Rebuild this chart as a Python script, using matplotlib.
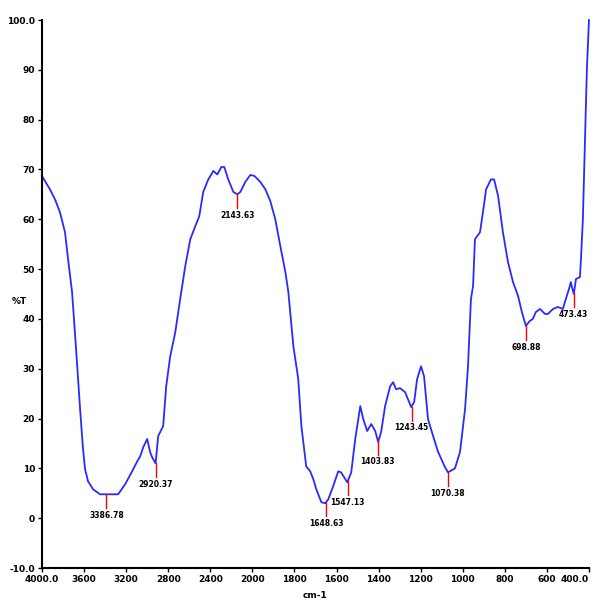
import numpy as np
import matplotlib
matplotlib.use("Agg")
import matplotlib.pyplot as plt

# FTIR spectrum (wavenumber cm-1, %T)
wavenumber = [4000, 3952, 3924, 3876, 3829, 3781, 3752, 3714, 3676, 3638,
              3610, 3590, 3562, 3514, 3448, 3386, 3276, 3210, 3143, 3095,
              3067, 3038, 3000, 2971, 2952, 2920, 2895, 2848, 2819, 2781,
              2733, 2686, 2638, 2590, 2543, 2505, 2467, 2419, 2371, 2333,
              2295, 2267, 2229, 2181, 2143, 2114, 2067, 2019, 1990, 1962,
              1938, 1915, 1891, 1867, 1843, 1829, 1805, 1782, 1767, 1744,
              1725, 1710, 1696, 1672, 1654, 1639, 1616, 1592, 1578, 1549,
              1530, 1511, 1487, 1473, 1454, 1435, 1416, 1402, 1388, 1369,
              1345, 1331, 1317, 1298, 1274, 1255, 1245, 1231, 1217, 1198,
              1184, 1165, 1141, 1117, 1084, 1070, 1037, 1013, 989, 975,
              961, 951, 942, 918, 904, 889, 866, 851, 832, 809,
              785, 761, 737, 719, 700, 681, 667, 652, 633, 609,
              595, 571, 548, 524, 510, 495, 486, 481, 472, 462,
              443, 438, 429, 420, 410, 400]
transmittance = [68.7, 67.0, 66.0, 64.0, 61.4, 57.4, 52.0, 45.4, 34.0, 22.0,
                 13.9, 9.8, 7.4, 5.8, 4.8, 4.8, 4.8, 6.8, 9.4, 11.4,
                 12.4, 14.2, 15.9, 13.2, 12.2, 11.0, 16.5, 18.5, 26.5, 32.5,
                 37.3, 44.0, 50.6, 56.0, 58.6, 60.6, 65.5, 68.0, 69.7, 69.0,
                 70.5, 70.5, 68.0, 65.5, 65.0, 65.5, 67.5, 68.9, 68.7, 67.5,
                 66.0, 63.7, 60.0, 54.6, 49.4, 45.4, 34.5, 28.0, 18.5, 10.4,
                 9.4, 7.8, 5.8, 3.2, 3.0, 3.8, 6.4, 9.4, 9.2, 7.2,
                 9.2, 15.9, 22.5, 19.9, 17.5, 18.9, 17.5, 15.3, 17.3, 22.5,
                 26.5, 27.3, 25.9, 26.1, 25.3, 23.3, 22.3, 23.3, 27.9, 30.5,
                 28.5, 19.9, 16.5, 13.3, 10.2, 9.2, 10.0, 13.3, 21.9, 30.5,
                 44.0, 46.6, 56.0, 57.4, 61.4, 66.0, 68.0, 68.0, 64.7, 57.4,
                 51.4, 47.4, 44.6, 41.4, 38.6, 39.6, 40.0, 41.4, 42.0, 41.0,
                 41.0, 42.0, 42.4, 42.0, 44.0, 46.0, 47.4, 46.4, 45.0, 48.0,
                 48.4, 52.0, 60.0, 74.0, 90.0, 100.0]

peak_wn = [3386.78, 2920.37, 2143.63, 1648.63, 1547.13, 1403.83, 1243.45,
           1070.38, 698.88, 473.43]
peak_labels = ["3386.78", "2920.37", "2143.63", "1648.63", "1547.13",
               "1403.83", "1243.45", "1070.38", "698.88", "473.43"]

xticks = [4000, 3600, 3200, 2800, 2400, 2000, 1800, 1600, 1400, 1200,
          1000, 800, 600, 400]
xtick_labels = ["4000.0", "3600", "3200", "2800", "2400", "2000", "1800",
                "1600", "1400", "1200", "1000", "800", "600", "400.0"]
yticks = [100, 90, 80, 70, 60, 50, 40, 30, 20, 10, 0, -10]
ytick_labels = ["100.0", "90", "80", "70", "60", "50", "40", "30", "20",
                "10", "0", "-10.0"]


# scale change at 2000 cm-1: 400 cm-1 per division above, 200 below
def forward(w):
    w = np.asarray(w, dtype=float)
    return np.where(w >= 2000, (w - 2000) / 2.0, w - 2000)


def inverse(u):
    u = np.asarray(u, dtype=float)
    return np.where(u >= 0, 2000 + 2.0 * u, 2000 + u)


plt.rcParams['font.family'] = ['Liberation Sans Narrow', 'DejaVu Sans']

fig = plt.figure(figsize=(5.98, 6.03), dpi=100)
ax = fig.add_axes([0.0702, 0.058, 0.9147, 0.9088])
ax.set_xscale('function', functions=(forward, inverse))

ax.plot(wavenumber, transmittance, color='#2a2aff', lw=1.3, clip_on=False)

# peak markers
wn_inc = np.array(wavenumber[::-1], dtype=float)
t_inc = np.array(transmittance[::-1], dtype=float)
for w, lab in zip(peak_wn, peak_labels):
    t = np.interp(w, wn_inc, t_inc)
    ax.plot([w, w], [t, t - 2.8], color='red', lw=1.0)
    ax.text(w, t - 3.4, lab, ha='center', va='top', fontsize=5.5,
            fontweight='bold', color='black')

ax.set_xlim(4000, 400)
ax.set_ylim(-10, 100)
ax.set_xticks(xticks)
ax.set_xticklabels(xtick_labels)
ax.set_yticks(yticks)
ax.set_yticklabels(ytick_labels)
ax.minorticks_off()
ax.tick_params(axis='both', labelsize=6.5, length=3, width=1, pad=2)
for lab in ax.get_xticklabels() + ax.get_yticklabels():
    lab.set_fontweight('bold')
# last label sits at the right edge of the figure
ax.get_xticklabels()[-1].set_horizontalalignment('right')
ax.get_xticklabels()[0].set_horizontalalignment('center')

ax.spines['top'].set_visible(False)
ax.spines['right'].set_visible(False)
ax.spines['left'].set_linewidth(1.5)
ax.spines['bottom'].set_linewidth(1.5)

fig.text(0.02, 0.50, '%T', fontsize=6.5, fontweight='bold', ha='left', va='center')
fig.text(0.527, 0.005, 'cm-1', fontsize=6.5, fontweight='bold', ha='center', va='bottom')

fig.savefig('out.png', dpi=100)
